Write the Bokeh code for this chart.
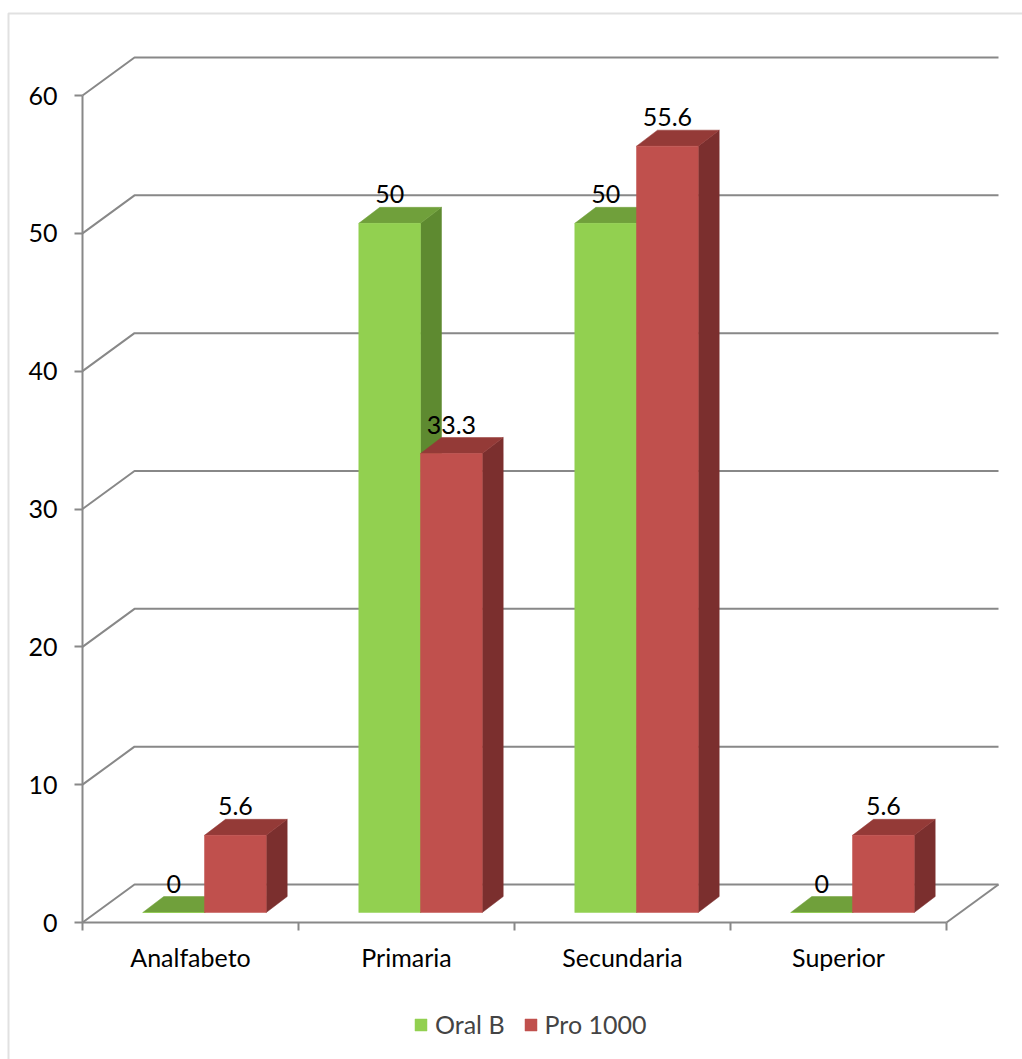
from bokeh.plotting import figure
from bokeh.models import (FixedTicker, LinearAxis, Legend, LegendItem,
                          BoxAnnotation, Range1d)
from bokeh.embed import file_html
from bokeh.resources import INLINE
from bokeh.core.properties import value

# ---- data -------------------------------------------------------------
categories = ["Analfabeto", "Primaria", "Secundaria", "Superior"]
oral_b = [0, 50, 50, 0]
pro_1000 = [5.6, 33.3, 55.6, 5.6]
series_names = ["Oral B", "Pro 1000"]
y_ticks = [0, 10, 20, 30, 40, 50, 60]

# ---- layout / style ----------------------------------------------------
W, H = 1022, 1059
ORIGIN_X, ORIGIN_Y = 82, 922   # where the front axes meet (canvas px)
PX_X = 216.0                   # pixels per category slot
PX_Y = 827.0 / 60.0            # pixels per value unit
FONT = "Lato"
FS = "25px"
GRID = "#888888"

def dx(px):
    return px / PX_X

def dy(px):
    return px / PX_Y

# oblique projection offsets, in data units
WALL_X, WALL_Y = dx(52), dy(38)     # depth of floor / back wall
SHIFT_X, SHIFT_Y = dx(14), dy(10)   # bars stand a little inside the floor
DEP_X, DEP_Y = dx(21), dy(16)       # depth of each column
BAR_W = 1.0 / 3.5                   # two columns + gap per category

colors = [
    dict(front="#92D050", top="#70A03B", side="#5E8A30"),
    dict(front="#C0504D", top="#943A37", side="#7B2F2E"),
]

n = len(categories)
p = figure(width=W, height=H,
           x_range=Range1d(-dx(ORIGIN_X), dx(W - ORIGIN_X)),
           y_range=Range1d(-dy(H - ORIGIN_Y), dy(ORIGIN_Y)),
           output_backend="svg", toolbar_location=None,
           x_axis_location=None, y_axis_location=None,
           min_border=0)
p.outline_line_color = None
p.background_fill_color = "white"
p.border_fill_color = "white"
p.xgrid.visible = False
p.ygrid.visible = False

# chart-area frame
p.add_layout(BoxAnnotation(left=8, right=W + 40, top=13, bottom=H + 40,
                           left_units="canvas", right_units="canvas",
                           top_units="canvas", bottom_units="canvas",
                           fill_alpha=0, line_color="#9a9a9a", line_width=2))

# side wall + back wall gridlines
gx, gy = [], []
for t in y_ticks:
    gx.append([0, WALL_X, n + WALL_X])
    gy.append([t, t + WALL_Y, t + WALL_Y])
gx.append([n, n + WALL_X])          # right edge of the floor
gy.append([0, WALL_Y])
p.multi_line(gx, gy, line_color=GRID, line_width=2)

# 3-D columns
legend_items = []
for s, vals in enumerate([oral_b, pro_1000]):
    c = colors[s]
    left = [i + 0.5 - BAR_W + s * BAR_W + SHIFT_X for i in range(n)]
    right = [l + BAR_W for l in left]
    tops = [v + SHIFT_Y for v in vals]
    side_xs = [[r, r + DEP_X, r + DEP_X, r] for r in right]
    side_ys = [[SHIFT_Y, SHIFT_Y + DEP_Y, t + DEP_Y, t] for t in tops]
    top_xs = [[l, r, r + DEP_X, l + DEP_X] for l, r in zip(left, right)]
    top_ys = [[t, t, t + DEP_Y, t + DEP_Y] for t in tops]
    p.patches(side_xs, side_ys, fill_color=c["side"], line_color=c["side"], line_width=0.5)
    p.patches(top_xs, top_ys, fill_color=c["top"], line_color=c["top"], line_width=0.5)
    front = p.quad(left=left, right=right, bottom=[SHIFT_Y] * n, top=tops,
                   fill_color=c["front"], line_color=c["front"], line_width=0.5)
    legend_items.append(LegendItem(label=series_names[s], renderers=[front]))
    # value labels, sitting on the back edge of each column top
    p.text(x=[(l + r) / 2 for l, r in zip(left, right)],
           y=[t + DEP_Y for t in tops],
           text=[f"{v:g}" for v in vals],
           text_font=value(FONT), text_font_size=FS, text_color="black",
           text_align="center", text_baseline="alphabetic", y_offset=-13)

# value axis, drawn at the front-left edge of the floor
yaxis = LinearAxis(ticker=FixedTicker(ticks=y_ticks, minor_ticks=[]),
                   bounds=(0, 60), fixed_location=0)
yaxis.axis_line_color = GRID
yaxis.axis_line_width = 2
yaxis.major_tick_line_color = GRID
yaxis.major_tick_line_width = 2
yaxis.major_tick_out = 8
yaxis.major_tick_in = 0
yaxis.minor_tick_line_color = None
yaxis.major_label_standoff = 17
yaxis.major_label_text_font = FONT
yaxis.major_label_text_font_size = FS
yaxis.major_label_text_color = "black"
p.add_layout(yaxis, "left")

# category axis along the front edge of the floor
centers = [i + 0.5 for i in range(n)]
xaxis = LinearAxis(ticker=FixedTicker(ticks=centers, minor_ticks=list(range(n + 1))),
                   bounds=(0, n), fixed_location=0)
xaxis.major_label_overrides = {c: lab for c, lab in zip(centers, categories)}
xaxis.axis_line_color = GRID
xaxis.axis_line_width = 2
xaxis.major_tick_line_color = None
xaxis.major_tick_out = 0
xaxis.major_tick_in = 0
xaxis.minor_tick_line_color = GRID
xaxis.minor_tick_line_width = 2
xaxis.minor_tick_out = 8
xaxis.minor_tick_in = 0
xaxis.major_label_standoff = 11
xaxis.major_label_text_font = FONT
xaxis.major_label_text_font_size = FS
xaxis.major_label_text_color = "black"
p.add_layout(xaxis, "below")

legend = Legend(items=legend_items, orientation="horizontal", location=(413, 20),
                label_text_font=FONT, label_text_font_size=FS,
                glyph_width=15, glyph_height=15, label_height=30,
                label_standoff=7, spacing=18, padding=0, margin=0,
                border_line_color=None, background_fill_alpha=0)
p.add_layout(legend, "center")

open("out.html", "w").write(file_html(p, INLINE))
